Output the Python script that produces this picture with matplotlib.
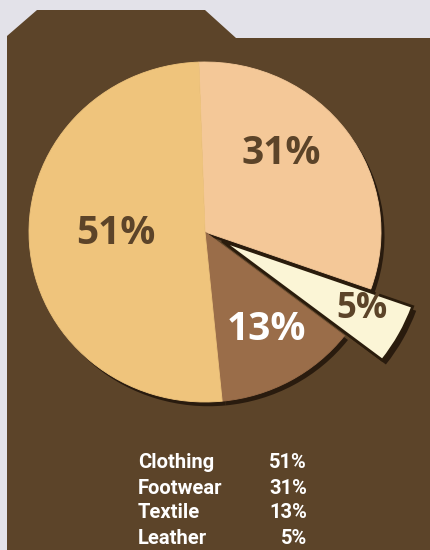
import matplotlib.pyplot as plt
from matplotlib.patches import Polygon

# data
categories = ['Clothing', 'Footwear', 'Textile', 'Leather']
shares = [51, 31, 13, 5]

# pie order, clockwise from 12 o'clock
pie_order = ['Footwear', 'Leather', 'Textile', 'Clothing']
pie_colors = ['#f4c898', '#fbf5d6', '#9a6d49', '#efc47c']
label_colors = ['#5c4429', '#5c4429', '#ffffff', '#5c4429']
explode_frac = [0, 0.11, 0, 0]

BROWN = '#5c4429'
W, H = 430, 550

fig = plt.figure(figsize=(W / 100, H / 100), dpi=100)
fig.patch.set_facecolor('#e3e2e9')
ax = fig.add_axes([0, 0, 1, 1])

# folder shaped background (pixel coords, y flipped)
folder = [(7, 0), (7, H - 36), (37, H - 10), (205, H - 10), (236, H - 38), (W, H - 38), (W, 0)]
ax.add_patch(Polygon(folder, closed=True, facecolor=BROWN, edgecolor='none', zorder=0))
ax.set_xlim(0, W)
ax.set_ylim(0, H)
ax.axis('off')

# pie in its own axes, slightly wider than tall
cx, cy, rx, ry = 205, 232, 176, 170
pax = fig.add_axes([(cx - rx * 1.4) / W, (H - cy - ry * 1.4) / H, rx * 2.8 / W, ry * 2.8 / H])
pax.patch.set_visible(False)

vals = [shares[categories.index(c)] for c in pie_order]

# dark shadow under the pie
shadow, _ = pax.pie(vals, center=(0.02, -0.025), radius=1, startangle=92, counterclock=False,
                    explode=explode_frac, colors=['#20140a'] * 4, frame=True,
                    wedgeprops=dict(linewidth=0, alpha=0.85))
shadow[1].set_radius(1.15)

wedges, _ = pax.pie(vals, center=(0, 0), radius=1, startangle=92, counterclock=False,
                    explode=explode_frac, colors=pie_colors, frame=True,
                    wedgeprops=dict(linewidth=0.6))
for w, c in zip(wedges, pie_colors):
    w.set_edgecolor(c)
wedges[1].set_radius(1.15)
wedges[1].set_edgecolor('#2a1c0c')
wedges[1].set_linewidth(2)

pax.set_xlim(-1.4, 1.4)
pax.set_ylim(-1.4, 1.4)
pax.set_aspect('auto')
pax.axis('off')

# percentage labels inside slices
label_pos = {'Footwear': (281, 153), 'Clothing': (116, 233), 'Textile': (266, 330), 'Leather': (362, 309)}
for name, col in zip(pie_order, label_colors):
    px, py = label_pos[name]
    fig.text(px / W, 1 - py / H, f'{shares[categories.index(name)]}%', ha='center', va='center',
             fontsize=28 if name != 'Leather' else 25, fontweight='bold', color=col,
             family=['Open Sans', 'DejaVu Sans'])

# legend table
rows_y = [463, 488, 513, 539]
for name, val, y in zip(categories, shares, rows_y):
    fig.text(138 / W, 1 - y / H, name, ha='left', va='center', fontsize=14.5, fontweight='bold',
             color='white', family=['Roboto', 'DejaVu Sans'])
    fig.text(307 / W, 1 - y / H, f'{val}%', ha='right', va='center', fontsize=14.5, fontweight='bold',
             color='white', family=['Roboto', 'DejaVu Sans'])

fig.savefig('out.png', dpi=100, facecolor=fig.get_facecolor())
